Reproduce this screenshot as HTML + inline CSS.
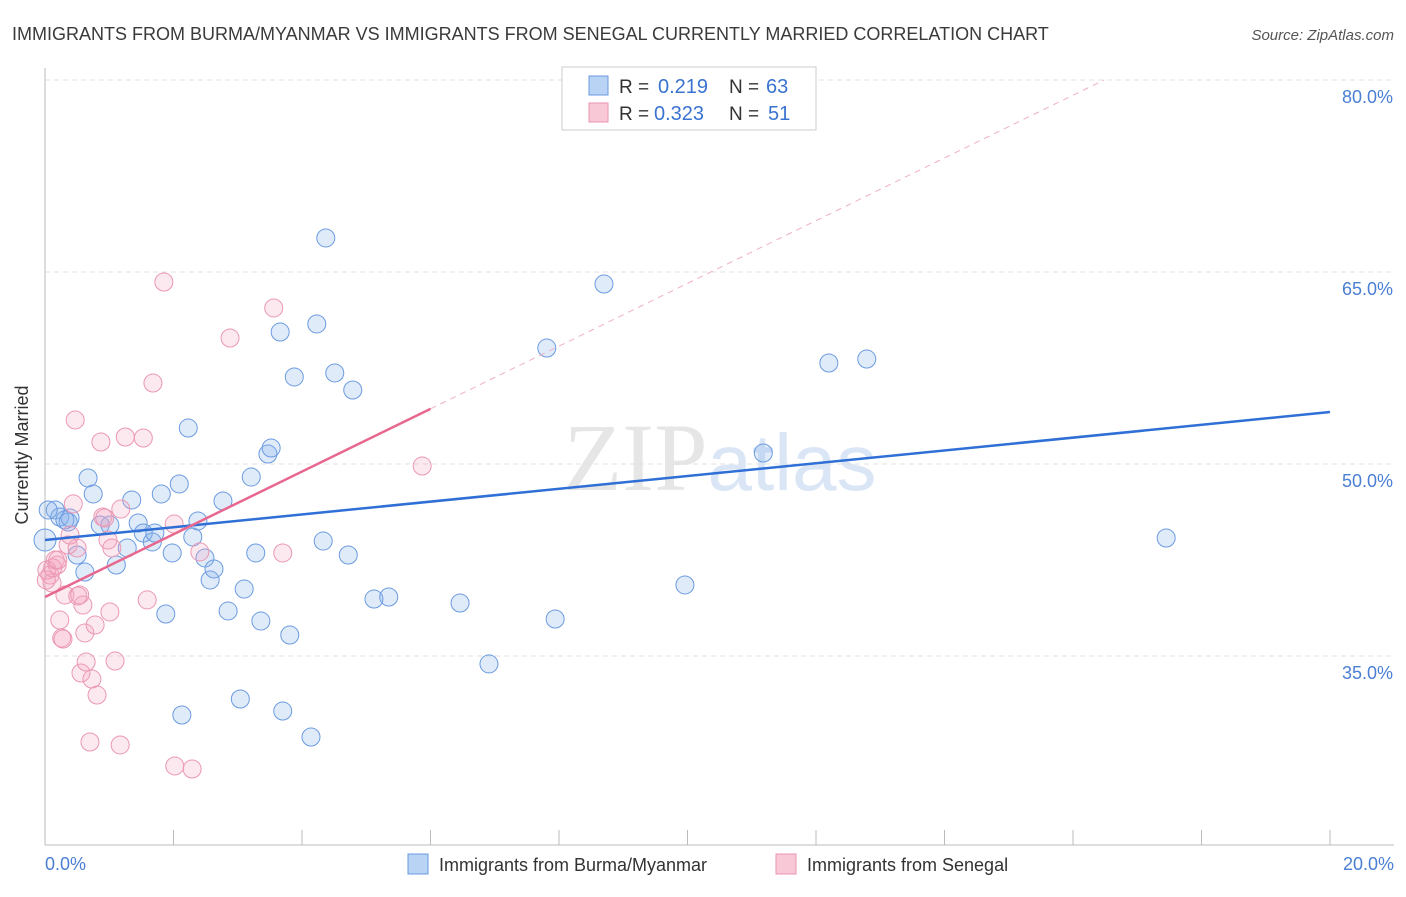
<!DOCTYPE html>
<html><head><meta charset="utf-8"><style>
body{margin:0;background:#fff;font-family:"Liberation Sans",sans-serif;}
</style></head><body>
<svg width="1406" height="892" xmlns="http://www.w3.org/2000/svg" font-family="Liberation Sans, sans-serif">
<text x="12" y="40" font-size="18" fill="#3a3a3a">IMMIGRANTS FROM BURMA/MYANMAR VS IMMIGRANTS FROM SENEGAL CURRENTLY MARRIED CORRELATION CHART</text>
<text x="1394" y="40" font-size="15" fill="#555" font-style="italic" text-anchor="end">Source: ZipAtlas.com</text>
<text x="720" y="490" font-size="96" fill="#e6e6e6" text-anchor="middle" font-family="Liberation Serif, serif">ZIP<tspan fill="#dae6f6" font-family="Liberation Sans, sans-serif" font-size="80">atlas</tspan></text>
<g id="grid"></g>
<g id="axes"></g>
<g id="marks"></g>
<text x="28" y="455" font-size="18" fill="#333" text-anchor="middle" transform="rotate(-90 28 455)">Currently Married</text>
<text x="45" y="870" font-size="18" fill="#4a7fd4">0.0%</text>
<text x="1394" y="870" font-size="18" fill="#4a7fd4" text-anchor="end">20.0%</text>
<g>
<rect x="562" y="67" width="254" height="63" fill="#fff" stroke="#ccc"/>
<rect x="589" y="76" width="19" height="19" fill="#b9d3f5" stroke="#6a9ae0"/>
<rect x="589" y="103" width="19" height="19" fill="#f9c8d7" stroke="#ea93ae"/>
<text x="619" y="93" font-size="19" fill="#333">R =</text>
<text x="658" y="93" font-size="20" fill="#3a73d0">0.219</text>
<text x="729" y="93" font-size="19" fill="#333">N =</text>
<text x="766" y="93" font-size="20" fill="#3a73d0">63</text>
<text x="619" y="120" font-size="19" fill="#333">R =</text>
<text x="654" y="120" font-size="20" fill="#3a73d0">0.323</text>
<text x="729" y="120" font-size="19" fill="#333">N =</text>
<text x="768" y="120" font-size="20" fill="#3a73d0">51</text>
</g>
<g>
<rect x="408" y="854" width="20" height="20" fill="#b9d3f5" stroke="#6a9ae0"/>
<text x="439" y="871" font-size="18" fill="#333">Immigrants from Burma/Myanmar</text>
<rect x="776" y="854" width="20" height="20" fill="#f9c8d7" stroke="#ea93ae"/>
<text x="807" y="871" font-size="18" fill="#333">Immigrants from Senegal</text>
</g>
</svg>
<script>
const yTicks=[35,50,65,80];
const blueX=[0.16,0.23,0.36,0.39,0.50,0.62,0.67,0.75,0.86,1.01,1.11,1.28,1.35,1.45,1.53,1.67,1.71,1.81,1.88,1.98,2.09,2.13,2.23,2.30,2.38,2.49,2.57,2.63,2.77,2.85,3.04,3.10,3.21,3.28,3.36,3.47,3.52,3.66,3.70,3.81,3.88,4.14,4.23,4.33,4.37,4.51,4.72,4.79,5.12,5.35,6.46,6.91,7.81,7.94,8.70,9.96,11.18,12.20,12.79,17.45,0.0,0.31,0.05];
const blueY=[46.41,45.86,45.47,45.78,42.89,41.56,48.91,47.66,45.23,45.23,42.11,43.44,47.19,45.39,44.61,43.91,44.61,47.66,38.28,43.05,48.44,30.39,52.81,44.30,45.55,42.66,40.94,41.80,47.11,38.52,31.64,40.23,48.98,43.05,37.73,50.78,51.25,60.31,30.70,36.64,56.80,28.67,60.94,43.98,67.66,57.11,42.89,55.78,39.45,39.61,39.14,34.38,59.06,37.89,64.06,40.55,50.86,57.89,58.20,44.22,44.06,45.63,46.41];
const pinkX=[0.08,0.11,0.16,0.19,0.23,0.26,0.31,0.36,0.44,0.47,0.50,0.51,0.56,0.59,0.62,0.64,0.70,0.73,0.78,0.81,0.87,0.90,0.98,1.01,1.04,1.09,1.17,1.18,1.25,1.53,1.59,1.68,1.85,2.01,2.02,2.29,2.41,2.88,3.56,3.70,5.87,0.39,0.02,0.03,0.12,0.20,0.93,0.28,0.54];
const pinkY=[41.33,40.70,42.50,42.11,37.81,36.41,39.77,43.67,46.88,53.44,43.44,39.69,33.67,38.98,36.80,34.53,28.28,33.20,37.42,31.95,51.72,45.86,44.06,38.44,43.44,34.61,28.05,46.48,52.11,52.03,39.38,56.33,64.22,45.31,26.41,26.17,43.13,59.84,62.19,43.05,49.84,44.45,40.94,41.72,41.88,42.50,45.78,36.33,39.77];
const blueLine=[44.06,54.06];
const pinkLine=[39.61,2.45];
const NS='http://www.w3.org/2000/svg';
const X=v=>45+v*64.25, Y=v=>80+(80-v)*12.8;
function mk(t,a,p){const e=document.createElementNS(NS,t);for(const k in a)e.setAttribute(k,a[k]);document.getElementById(p).appendChild(e);return e;}
yTicks.forEach(t=>{
  const l=mk('line',{x1:45,x2:1394,y1:Y(t),y2:Y(t),stroke:'#e0e0e0','stroke-dasharray':'5,4'},'grid');
  
  
  const tx=mk('text',{x:1393,y:Y(t)+23,'font-size':18,fill:'#4a7fd4','text-anchor':'end'},'grid');
  tx.textContent=t.toFixed(1)+'%';
  
  
});
const ax=mk('line',{x1:45,x2:45,y1:68,y2:845,stroke:'#bbb'},'axes');


const bx=mk('line',{x1:45,x2:1394,y1:845,y2:845,stroke:'#bbb'},'axes');


for(let i=0;i<=10;i++){const t=mk('line',{x1:X(i*2),x2:X(i*2),y1:830,y2:845,stroke:'#bbb'},'axes');

}
blueX.forEach((x,i)=>{const c=mk('circle',{cx:X(x),cy:Y(blueY[i]),r:i==60?11:9,fill:'rgba(130,175,235,0.25)',stroke:'#6b9be0','stroke-width':1},'marks');

});
pinkX.forEach((x,i)=>{const c=mk('circle',{cx:X(x),cy:Y(pinkY[i]),r:9,fill:'rgba(245,165,190,0.25)',stroke:'#eb98b2','stroke-width':1},'marks');

});
const bl=mk('line',{x1:X(0),y1:Y(blueLine[0]),x2:X(20),y2:Y(blueLine[1]),stroke:'#2f6fd6','stroke-width':2.5},'marks');


const xe=(80-pinkLine[0])/pinkLine[1];
const pd=mk('line',{x1:X(6),y1:Y(pinkLine[0]+6*pinkLine[1]),x2:X(xe),y2:Y(80),stroke:'#eeb0c2','stroke-width':1,'stroke-dasharray':'6,5'},'marks');


const pl=mk('line',{x1:X(0),y1:Y(pinkLine[0]),x2:X(6),y2:Y(pinkLine[0]+6*pinkLine[1]),stroke:'#e8678f','stroke-width':2.5},'marks');


</script>
</body></html>
